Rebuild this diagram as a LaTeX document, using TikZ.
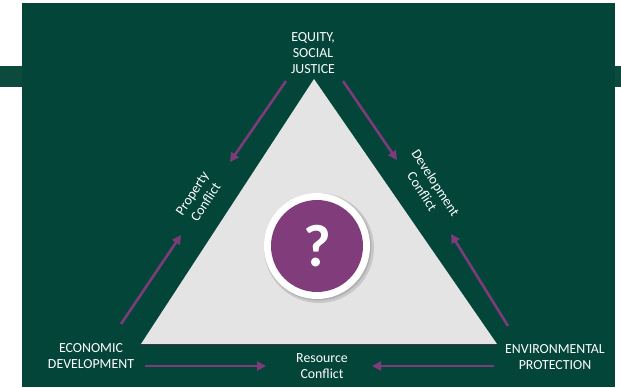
\documentclass[tikz,border=0pt]{standalone}
\usepackage{fontspec}
\setmainfont{Carlito}
\usetikzlibrary{arrows.meta,shadows,calc}
\definecolor{bggreen}{HTML}{04453A}
\definecolor{stripgreen}{HTML}{0B4A3C}
\definecolor{tri}{HTML}{E4E4E4}
\definecolor{purp}{HTML}{7E3B7A}
\definecolor{circpurp}{HTML}{813D7B}
\begin{document}
\begin{tikzpicture}[x=1bp,y=-1bp,
  lbl/.style={text=white,font=\fontsize{13.9}{16}\selectfont,align=center,inner sep=0pt},
  conn/.style={draw=purp,line width=2.6bp,-{Triangle[length=9bp,width=9bp]}}]
\useasboundingbox (0,0) rectangle (621,387);
\fill[white] (0,0) rectangle (621,387);
\fill[stripgreen] (0,66) rectangle (621,87);
\fill[bggreen] (22,3) rectangle (615,387);
% triangle
\coordinate (A) at (314,79);
\coordinate (B) at (141,344);
\coordinate (C) at (497,344);
\fill[black!60!purple,opacity=0.6] ($(B)+(0,1.2)$) -- ($(C)+(0,1.2)$) -- (C) -- (B) -- cycle;
\fill[tri] (A) -- (B) -- (C) -- cycle;
% circle
\fill[black,opacity=0.12] (319,248) circle (55);
\fill[black,opacity=0.12] (318,247) circle (53.5);
\node[circle,fill=white,minimum size=106bp,inner sep=0pt] (outer) at (317,246) {};
\node[circle,fill=circpurp,minimum size=92bp,inner sep=0pt,text=white,
  font=\fontsize{60}{60}\selectfont\bfseries] (q) at (317,246) {?};
% labels
\node[lbl] (top) at (313,53) {EQUITY,\\SOCIAL\\JUSTICE};
\node[lbl] (econ) at (91,356) {ECONOMIC\\DEVELOPMENT};
\node[lbl] (env) at (555,357) {ENVIRONMENTAL\\PROTECTION};
\node[lbl] (res) at (322,366) {Resource\\Conflict};
\node[lbl,rotate=57] (prop) at (199,198) {Property\\Conflict};
\node[lbl,rotate=-57] (dev) at (429,187) {Development\\Conflict};
% connector anchors
\coordinate (tl1) at (286,81);
\coordinate (tl2) at (230,162);
\coordinate (tr1) at (343,81);
\coordinate (tr2) at (397,160);
\coordinate (bl1) at (121,324);
\coordinate (bl2) at (181,235);
\coordinate (br1) at (508,326);
\coordinate (br2) at (451,234);
\coordinate (b1) at (145,366);
\coordinate (b2) at (266,366);
\coordinate (b3) at (494,366);
\coordinate (b4) at (372,366);
\draw[conn] (tl1) -- (tl2);
\draw[conn] (tr1) -- (tr2);
\draw[conn] (bl1) -- (bl2);
\draw[conn] (br1) -- (br2);
\draw[conn] (b1) -- (b2);
\draw[conn] (b3) -- (b4);
\end{tikzpicture}
\end{document}
